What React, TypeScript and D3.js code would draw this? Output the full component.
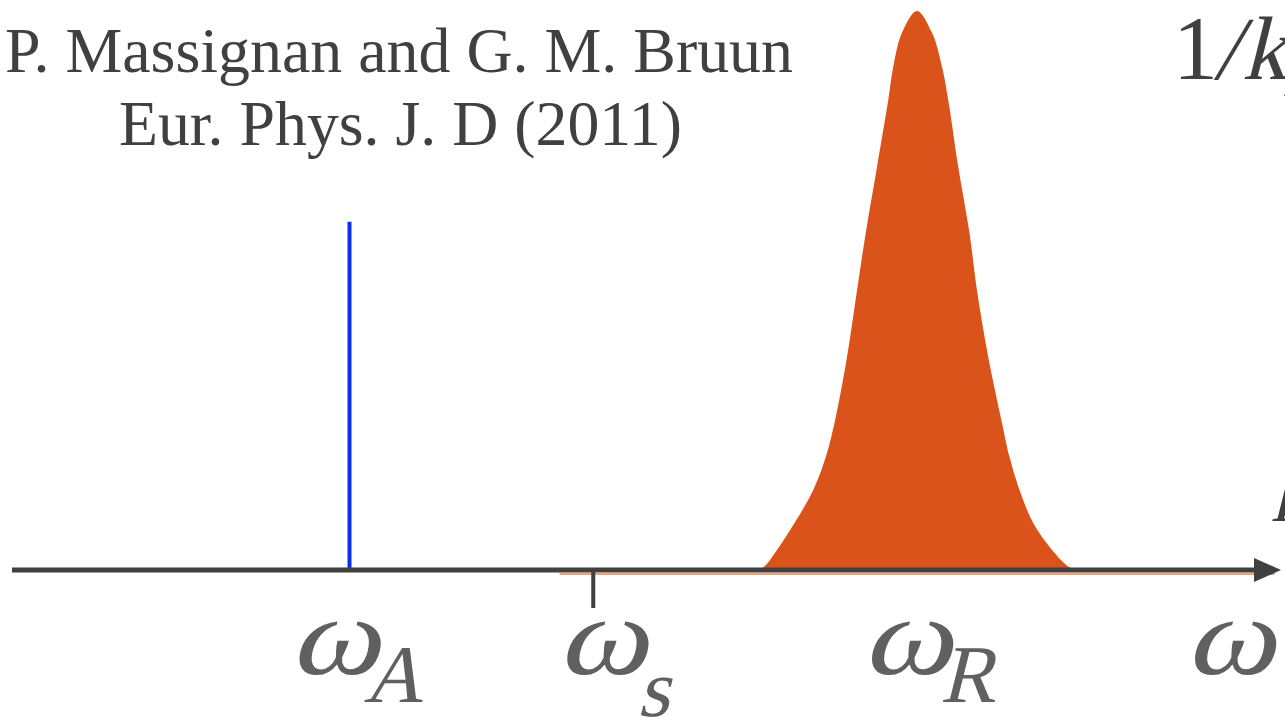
import React from "react";
import * as d3 from "d3";

// Frequency axis positions (arbitrary units) of the marked features
const featureNames = ["A", "s", "R"];
const featureOmega = [27.0, 46.5, 72.4];

// Weight of the sharp (bound-state) line at ω_A
const boundWeight = 0.623;

// Broad resonance spectral weight, read along the peak around ω_R
const resonanceOmega = [
  58.6, 59.4, 60.1, 61.2, 62.6, 64.1, 65.1, 65.8, 66.8, 67.6, 68.3, 69.2, 70.1, 70.5, 71.2, 72.4,
  73.6, 74.4, 74.9, 75.7, 76.6, 77.2, 78.1, 79.2, 79.8, 80.6, 81.7, 83.2, 84.6, 85.3, 86.0,
];
const resonanceWeight = [
  0.0, 0.001, 0.005, 0.036, 0.084, 0.143, 0.202, 0.263, 0.381, 0.5, 0.603, 0.721, 0.841, 0.9, 0.961, 1.0,
  0.961, 0.9, 0.841, 0.721, 0.603, 0.5, 0.381, 0.263, 0.202, 0.143, 0.084, 0.036, 0.005, 0.001, 0.0,
];

// Continuum baseline extent
const continuumRange = [43.8, 101.0];

const titleLines = ["P. Massignan and G. M. Bruun", "Eur. Phys. J. D (2011)"];

const W = 1285;
const H = 718;
const INK = "#404040";
const LABEL = "#606060";
const ORANGE = "#d9531a";
const BLUE = "#0b2ff2";
const SERIF = "Liberation Serif, Times New Roman, serif";

// Slanted serif glyphs for math symbols
function MathText(props: {
  x: number;
  y: number;
  size: number;
  fill: string;
  children: React.ReactNode;
  skew?: number;
  sx?: number;
}) {
  const { x, y, size, fill, children, skew = -14, sx = 1 } = props;
  return (
    <text
      transform={`translate(${x},${y}) skewX(${skew}) scale(${sx},1)`}
      x={0}
      y={0}
      fontFamily={SERIF}
      fontSize={size}
      fill={fill}
    >
      {children}
    </text>
  );
}

export default function App() {
  const x = d3.scaleLinear().domain([0, 100]).range([12, 1262]);
  const y = d3.scaleLinear().domain([0, 1]).range([570, 11]);
  const y0 = y(0);

  const pts = resonanceOmega.map((w, i) => ({ w, a: resonanceWeight[i] }));
  const area = d3
    .area<{ w: number; a: number }>()
    .x((d) => x(d.w))
    .y0(y0)
    .y1((d) => Math.min(y0, y(d.a)))
    .curve(d3.curveCatmullRom.alpha(0.5));

  const [xA, xS, xR] = featureOmega.map((w) => x(w));

  // label placement: ω glyph origin relative to the feature, subscript position
  const labelLayout = [
    { dx: -60, subDx: 74, subY: 702 },
    { dx: -36, subDx: 80, subY: 716 },
    { dx: -55, subDx: 78, subY: 702 },
  ];

  return (
    <svg
      width={W}
      height={H}
      viewBox={`0 0 ${W} ${H}`}
      style={{ position: "fixed", left: 0, top: 0, background: "#ffffff" }}
    >
      <rect x={0} y={0} width={W} height={H} fill="#ffffff" />

      {/* title */}
      <text
        x={5}
        y={72}
        fontFamily={SERIF}
        fontSize={63}
        fill={INK}
        textLength={788}
        lengthAdjust="spacingAndGlyphs"
      >
        {titleLines[0]}
      </text>
      <text
        x={119}
        y={145}
        fontFamily={SERIF}
        fontSize={63}
        fill={INK}
        textLength={563}
        lengthAdjust="spacingAndGlyphs"
      >
        {titleLines[1]}
      </text>

      {/* 1/k_F scale label, running off the right edge */}
      <text x={1173} y={79} fontFamily={SERIF} fontSize={90} fill={INK}>
        1
      </text>
      <MathText x={1214} y={79} size={90} fill={INK}>
        /
      </MathText>
      <MathText x={1242} y={79} size={90} fill={INK}>
        k
      </MathText>
      <MathText x={1282} y={96} size={62} fill={INK}>
        F
      </MathText>
      <MathText x={1270} y={521} size={80} fill={INK}>
        k
      </MathText>

      {/* continuum baseline */}
      <line
        x1={x(continuumRange[0])}
        x2={x(continuumRange[1])}
        y1={y0 + 4}
        y2={y0 + 4}
        stroke="#f2a07a"
        strokeWidth={2}
      />

      {/* broad resonance */}
      <path d={area(pts) ?? ""} fill={ORANGE} />

      {/* sharp line at ω_A */}
      <line x1={xA} x2={xA} y1={y0} y2={y(boundWeight)} stroke={BLUE} strokeWidth={4} />

      {/* frequency axis with arrow */}
      <line x1={x(0)} x2={1258} y1={y0} y2={y0} stroke={INK} strokeWidth={5} />
      <path d={`M1254,${y0 - 12} L1281,${y0} L1254,${y0 + 12} Z`} fill={INK} />

      {/* tick at ω_s */}
      <line x1={xS} x2={xS} y1={y0} y2={y0 + 38} stroke={INK} strokeWidth={4} />

      {/* feature labels */}
      {[xA, xS, xR].map((px, i) => {
        const lx = px + labelLayout[i].dx;
        return (
          <g key={featureNames[i]}>
            <MathText x={lx} y={674} size={112} fill={LABEL} sx={1.22}>
              ω
            </MathText>
            <MathText x={lx + labelLayout[i].subDx} y={labelLayout[i].subY} size={82} fill={LABEL}>
              {featureNames[i]}
            </MathText>
          </g>
        );
      })}

      {/* axis name */}
      <MathText x={1185} y={674} size={112} fill={LABEL} sx={1.22}>
        ω
      </MathText>
    </svg>
  );
}
